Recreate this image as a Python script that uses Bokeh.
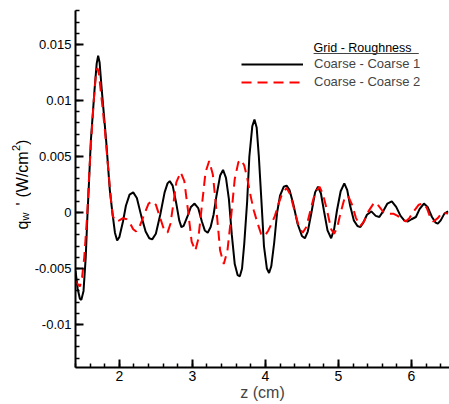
import numpy as np
from bokeh.plotting import figure
from bokeh.layouts import row
from bokeh.models import (Range1d, SingleIntervalTicker, CustomJSTickFormatter, Label,
                          Legend, LegendItem, BoxAnnotation)
from bokeh.core.properties import value
from bokeh.embed import file_html
from bokeh.resources import INLINE

# ---- data ----
z_coarse1 = [1.40, 1.43, 1.46, 1.48, 1.51, 1.54, 1.565, 1.58, 1.61, 1.66, 1.69, 1.71, 1.73, 1.76,
             1.82, 1.87, 1.905, 1.94, 1.97, 2.00, 2.05, 2.09, 2.14, 2.19, 2.24, 2.30, 2.36, 2.41,
             2.45, 2.50, 2.56, 2.62, 2.66, 2.69, 2.73, 2.78, 2.82, 2.85, 2.88, 2.93, 2.98, 3.03,
             3.08, 3.13, 3.17, 3.21, 3.25, 3.29, 3.33, 3.38, 3.42, 3.46, 3.50, 3.54, 3.58, 3.62,
             3.65, 3.68, 3.71, 3.75, 3.78, 3.82, 3.85, 3.88, 3.91, 3.95, 3.98, 4.02, 4.05, 4.08,
             4.12, 4.16, 4.20, 4.25, 4.29, 4.33, 4.38, 4.44, 4.50, 4.54, 4.58, 4.63, 4.68, 4.72,
             4.76, 4.80, 4.85, 4.90, 4.94, 4.98, 5.03, 5.08, 5.12, 5.16, 5.21, 5.26, 5.30, 5.34,
             5.39, 5.45, 5.51, 5.56, 5.61, 5.67, 5.73, 5.79, 5.85, 5.90, 5.95, 6.00, 6.06, 6.11,
             6.17, 6.22, 6.28, 6.33, 6.36, 6.40, 6.45, 6.50]
q_coarse1 = [-0.0052, -0.0068, -0.0077, -0.0078, -0.0070, -0.0040, 0.0000, 0.0020, 0.0064, 0.0109,
             0.0133, 0.0140, 0.0134, 0.0109, 0.0064, 0.0020, 0.0000, -0.0018, -0.0025, -0.0022,
             -0.0008, 0.0006, 0.0016, 0.0018, 0.0013, -0.0003, -0.0017, -0.0023, -0.0024, -0.0019,
             -0.0002, 0.0018, 0.0026, 0.0028, 0.0024, 0.0008, -0.0007, -0.0013, -0.0012, -0.0004,
             0.0005, 0.0008, 0.0004, -0.0008, -0.0016, -0.0018, -0.0013, -0.0002, 0.0015, 0.0033,
             0.0038, 0.0031, 0.0012, -0.0020, -0.0046, -0.0056, -0.0057, -0.0050, -0.0028, 0.0010,
             0.0050, 0.0077, 0.0083, 0.0076, 0.0050, 0.0005, -0.0030, -0.0050, -0.0054, -0.0048,
             -0.0027, 0.0000, 0.0015, 0.0023, 0.0024, 0.0020, 0.0008, -0.0010, -0.0021, -0.0023,
             -0.0017, 0.0000, 0.0018, 0.0023, 0.0017, 0.0002, -0.0016, -0.0023, -0.0015, 0.0002,
             0.0019, 0.0026, 0.0020, 0.0006, -0.0007, -0.0012, -0.0013, -0.0009, -0.0002, 0.0001,
             -0.0003, -0.0004, 0.0001, 0.0008, 0.0010, 0.0005, -0.0003, -0.0007, -0.0008, -0.0006,
             -0.0004, 0.0003, 0.0008, 0.0005, -0.0004, -0.0009, -0.0010, -0.0007, -0.0001, 0.0001]

z_coarse2 = [1.40, 1.43, 1.46, 1.49, 1.52, 1.56, 1.58, 1.61, 1.65, 1.68, 1.70, 1.72, 1.76, 1.80,
             1.84, 1.88, 1.91, 1.95, 2.00, 2.05, 2.10, 2.15, 2.19, 2.23, 2.28, 2.34, 2.40, 2.45,
             2.50, 2.56, 2.61, 2.66, 2.70, 2.74, 2.78, 2.84, 2.89, 2.94, 2.99, 3.04, 3.08, 3.13,
             3.18, 3.23, 3.28, 3.33, 3.38, 3.43, 3.48, 3.53, 3.58, 3.63, 3.67, 3.71, 3.75, 3.80,
             3.84, 3.89, 3.94, 3.99, 4.04, 4.09, 4.13, 4.18, 4.22, 4.29, 4.34, 4.40, 4.46, 4.51,
             4.56, 4.62, 4.68, 4.74, 4.79, 4.85, 4.90, 4.94, 4.98, 5.03, 5.08, 5.13, 5.18, 5.24,
             5.30, 5.35, 5.41, 5.49, 5.55, 5.62, 5.68, 5.75, 5.81, 5.87, 5.92, 5.97, 6.03, 6.10,
             6.16, 6.21, 6.26, 6.30, 6.36, 6.42, 6.50]
q_coarse2 = [-0.0061, -0.0064, -0.0066, -0.0058, -0.0040, -0.0002, 0.0025, 0.0060, 0.0100, 0.0124,
             0.0129, 0.0124, 0.0100, 0.0075, 0.0045, 0.0015, -0.0003, -0.0008, -0.0007, -0.0005,
             -0.0006, -0.0010, -0.0015, -0.0017, -0.0012, -0.0002, 0.0008, 0.0010, 0.0007, -0.0005,
             -0.0015, -0.0018, -0.0010, 0.0008, 0.0027, 0.0036, 0.0028, 0.0002, -0.0026, -0.0034,
             -0.0024, 0.0006, 0.0036, 0.0046, 0.0034, 0.0002, -0.0034, -0.0046, -0.0034, -0.0004,
             0.0030, 0.0045, 0.0047, 0.0042, 0.0031, 0.0014, 0.0002, -0.0009, -0.0019, -0.0021,
             -0.0016, -0.0009, -0.0003, 0.0008, 0.0015, 0.0022, 0.0016, 0.0001, -0.0013, -0.0018,
             -0.0013, 0.0003, 0.0018, 0.0023, 0.0016, 0.0000, -0.0015, -0.0019, -0.0014, 0.0000,
             0.0012, 0.0015, 0.0008, -0.0005, -0.0012, -0.0008, 0.0001, 0.0009, 0.0006, 0.0000,
             -0.0001, -0.0001, -0.0003, -0.0006, -0.0008, -0.0005, 0.0001, 0.0007, 0.0008, 0.0004,
             -0.0005, -0.0008, -0.0005, 0.0000, -0.0001]

legend_title = "Grid - Roughness"
series_labels = ["Coarse - Coarse 1", "Coarse - Coarse 2"]
x_label = "z (cm)"
y_label_parts = ["q", "w", "'", "(W/cm", "2", ")"]

# ---- layout ----
W, H = 449, 404
LW = 31                      # width of the strip that carries the y-axis title
FL, FR, FT, FB = 72, 0, 10, 37
X0, X1 = 1.4, 6.52
Y0, Y1 = -0.01384, 0.01804
FW, FH = W - FL - FR, H - FT - FB

def sx(px):
    return X0 + (px - FL) * (X1 - X0) / FW

def sy(py):
    return Y1 - (py - FT) * (Y1 - Y0) / FH

FONT = "Liberation Sans"

p = figure(width=W - LW, height=H, output_backend="svg", toolbar_location=None,
           x_range=Range1d(X0, X1), y_range=Range1d(Y0, Y1),
           min_border_left=FL - LW, min_border_right=FR, min_border_top=FT, min_border_bottom=FB)
p.outline_line_color = None
p.grid.visible = False

r1 = p.line(z_coarse1, q_coarse1, line_color="black", line_width=2)
r2 = p.line(z_coarse2, q_coarse2, line_color="#ff0000", line_width=2, line_dash="10 6")

for ax in (p.xaxis[0], p.yaxis[0]):
    ax.axis_line_width = 2
    ax.axis_line_color = "black"
    ax.major_tick_in = 8
    ax.major_tick_out = 0
    ax.minor_tick_in = 4
    ax.minor_tick_out = 0
    ax.major_tick_line_width = 2
    ax.minor_tick_line_width = 1.5
    ax.major_label_text_font = FONT
    ax.major_label_text_color = "black"

p.xaxis.major_label_text_font_size = "14px"
p.yaxis.major_label_text_font_size = "13px"
p.xaxis.ticker = SingleIntervalTicker(interval=1, num_minor_ticks=5)
p.yaxis.ticker = SingleIntervalTicker(interval=0.005, num_minor_ticks=5)
p.yaxis.formatter = CustomJSTickFormatter(code="return String(Math.round(tick*1000)/1000);")
p.yaxis.major_label_standoff = 4
p.xaxis.major_label_standoff = 3
p.xaxis.axis_label = x_label
p.xaxis.axis_label_text_font = FONT
p.xaxis.axis_label_text_font_size = "16px"
p.xaxis.axis_label_text_font_style = "normal"
p.xaxis.axis_label_standoff = 0

# legend
p.add_layout(Label(x=sx(312), y=sy(47.5), text=legend_title, text_font=FONT,
                   text_font_size="12.5px", text_color="black",
                   text_align="left", text_baseline="alphabetic"))
p.add_layout(BoxAnnotation(left=sx(312), right=sx(418), top=sy(52.5), bottom=sy(53.5),
                           fill_color="#444444", fill_alpha=1, line_color=None))

legend = Legend(items=[LegendItem(label=series_labels[0], renderers=[r1]),
                       LegendItem(label=series_labels[1], renderers=[r2])],
                location=(238 - FL, H - FB - 89), glyph_width=62, glyph_height=14,
                label_height=14, label_standoff=11, spacing=3, padding=0, margin=0,
                border_line_color=None, background_fill_alpha=0,
                label_text_font=FONT, label_text_font_size="13px")
p.add_layout(legend)

# ---- strip on the left with the y-axis title (with subscript / superscript) ----
# (the row aligns this strip's frame with the main frame, so it shares the y range)
t = figure(width=LW, height=H, output_backend="svg", toolbar_location=None,
           x_range=Range1d(0, LW), y_range=Range1d(Y0, Y1),
           x_axis_type=None, y_axis_type=None, title=None,
           min_border=0, min_border_left=0, min_border_right=0,
           min_border_top=FT, min_border_bottom=FB)
t.outline_line_color = None
t.grid.visible = False

bx = [21.5, 24.5, 21.5, 21.5, 15, 21.5]
by = [229, 220, 205, 197, 150.5, 144.5]
fs = ["16px", "11px", "16px", "16px", "11px", "16px"]
t.text(x=bx, y=[sy(v) for v in by], text=y_label_parts, angle=np.pi / 2,
       text_font=value(FONT), text_font_size=fs, text_color="black",
       text_align="left", text_baseline="alphabetic")

layout = row(t, p, spacing=0)
open("out.html", "w").write(file_html(layout, INLINE))
